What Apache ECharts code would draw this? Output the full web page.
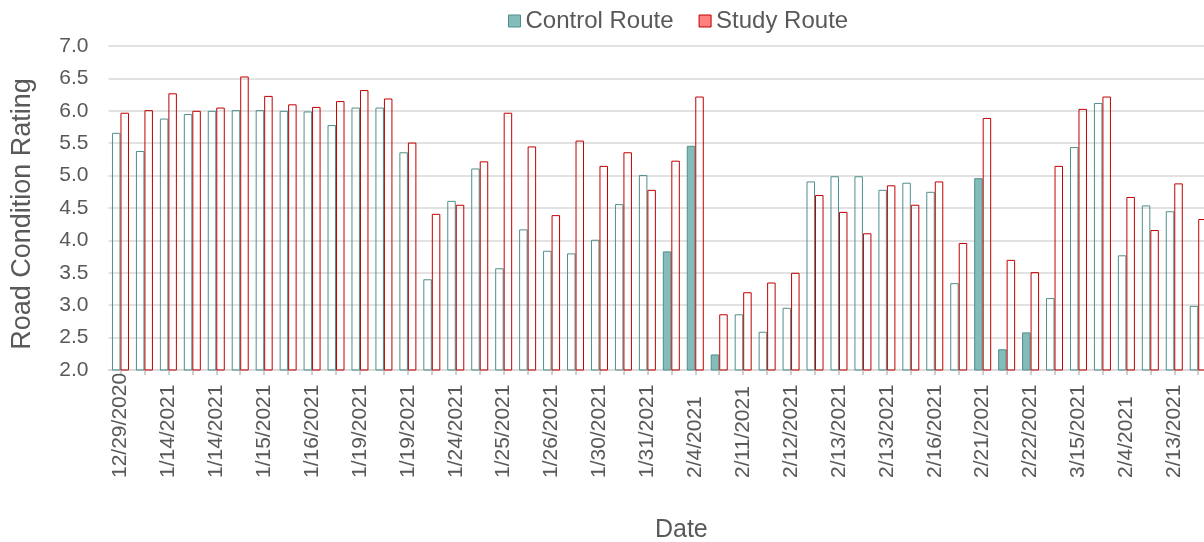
<!DOCTYPE html>
<html>
<head>
<meta charset="utf-8">
<script src="https://cdn.jsdelivr.net/npm/echarts@6/dist/echarts.min.js"></script>
<style>
html,body{margin:0;padding:0;background:#fff;overflow:hidden;}
#chart{width:1204px;height:542px;}
</style>
</head>
<body>
<div id="chart"></div>
<script>
// Category labels (only every other one is shown in the reference; hidden ones unknown)
const dates = [
  '12/29/2020','', '1/14/2021','', '1/14/2021','', '1/15/2021','', '1/16/2021','',
  '1/19/2021','', '1/19/2021','', '1/24/2021','', '1/25/2021','', '1/26/2021','',
  '1/30/2021','', '1/31/2021','', '2/4/2021','', '2/11/2021','', '2/12/2021','',
  '2/13/2021','', '2/13/2021','', '2/16/2021','', '2/21/2021','', '2/22/2021','',
  '3/15/2021','', '2/4/2021','', '2/13/2021',''
];
const controlRoute = [
  5.66, 5.38, 5.88, 5.95, 6.00, 6.01, 6.01, 6.00, 5.99, 5.78,
  6.05, 6.05, 5.36, 3.40, 4.61, 5.11, 3.57, 4.17, 3.84, 3.80,
  4.01, 4.56, 5.01, 3.83, 5.46, 2.24, 2.86, 2.59, 2.96, 4.91,
  4.99, 4.99, 4.78, 4.89, 4.75, 3.34, 4.96, 2.32, 2.58, 3.11,
  5.44, 6.12, 3.77, 4.54, 4.45, 2.99
];
const studyRoute = [
  5.97, 6.01, 6.27, 6.00, 6.05, 6.53, 6.23, 6.10, 6.06, 6.15,
  6.32, 6.19, 5.51, 4.41, 4.55, 5.22, 5.97, 5.45, 4.39, 5.54,
  5.15, 5.36, 4.78, 5.23, 6.22, 2.86, 3.20, 3.35, 3.50, 4.70,
  4.44, 4.11, 4.85, 4.55, 4.91, 3.96, 5.89, 3.70, 3.51, 5.15,
  6.03, 6.22, 4.67, 4.16, 4.88, 4.33
];
// Indices of control bars drawn with solid fill
const filledControl = [23, 24, 25, 36, 37, 38];

const FONT = "'Liberation Sans', Arial, sans-serif";
const TXT = '#595959';
const TEAL_LINE = '#4E8F8C';
const TEAL_FILL = '#84BCBA';
const RED_LINE = '#C00000';

const chart = echarts.init(document.getElementById('chart'), null, {renderer: 'canvas'});
const catW = 23.95;

chart.setOption({
  animation: false,
  backgroundColor: '#ffffff',
  textStyle: {fontFamily: FONT},
  legend: {
    left: 503, top: 4,
    itemWidth: 12, itemHeight: 12, itemGap: 25,
    icon: 'rect',
    textStyle: {fontFamily: FONT, fontSize: 24, color: TXT},
    data: [
      {name: 'Control Route', itemStyle: {color: TEAL_FILL, borderColor: TEAL_LINE, borderWidth: 1}},
      {name: 'Study Route', itemStyle: {color: '#FF8080', borderColor: RED_LINE, borderWidth: 1}}
    ]
  },
  grid: {
    left: 108.5, top: 46, width: catW * dates.length, height: 324,
    outerBoundsMode: 'none', containLabel: false
  },
  xAxis: {
    type: 'category',
    data: dates,
    boundaryGap: true,
    name: 'Date',
    nameLocation: 'middle',
    nameGap: 148,
    nameTextStyle: {fontFamily: FONT, fontSize: 25, color: TXT, padding: [0, 0, 0, 44]},
    axisLine: {show: true, lineStyle: {color: '#D9D9D9', width: 1.5}},
    axisTick: {show: true, alignWithLabel: true, interval: 0, length: 5, lineStyle: {color: '#BFBFBF', width: 1.5}},
    axisLabel: {interval: 1, rotate: 90, margin: 108, align: 'left', verticalAlign: 'middle',
                fontFamily: FONT, fontSize: 21, color: TXT},
    splitLine: {show: false}
  },
  yAxis: {
    type: 'value',
    min: 2, max: 7, interval: 0.5,
    name: 'Road Condition Rating',
    nameLocation: 'middle',
    nameRotate: 90,
    nameGap: 72,
    nameTextStyle: {fontFamily: FONT, fontSize: 27, color: TXT, padding: [0, 12, 0, 0]},
    axisLine: {show: false},
    axisTick: {show: false},
    axisLabel: {margin: 20, fontFamily: FONT, fontSize: 21, color: TXT, formatter: v => v.toFixed(1)},
    splitLine: {show: true, lineStyle: {color: '#D9D9D9', width: 1.5}}
  },
  series: [
    {
      name: 'Control Route',
      type: 'bar',
      barWidth: 8.5,
      barGap: '0%',
      itemStyle: {color: 'rgba(255,255,255,0)', borderColor: TEAL_LINE, borderWidth: 1},
      data: controlRoute.map((v, i) => filledControl.includes(i)
        ? {value: v, itemStyle: {color: TEAL_FILL, borderColor: TEAL_LINE, borderWidth: 1}}
        : v)
    },
    {
      name: 'Study Route',
      type: 'bar',
      barWidth: 8.5,
      barGap: '0%',
      itemStyle: {color: 'rgba(255,255,255,0)', borderColor: RED_LINE, borderWidth: 1},
      data: studyRoute
    }
  ]
});
</script>
</body>
</html>
